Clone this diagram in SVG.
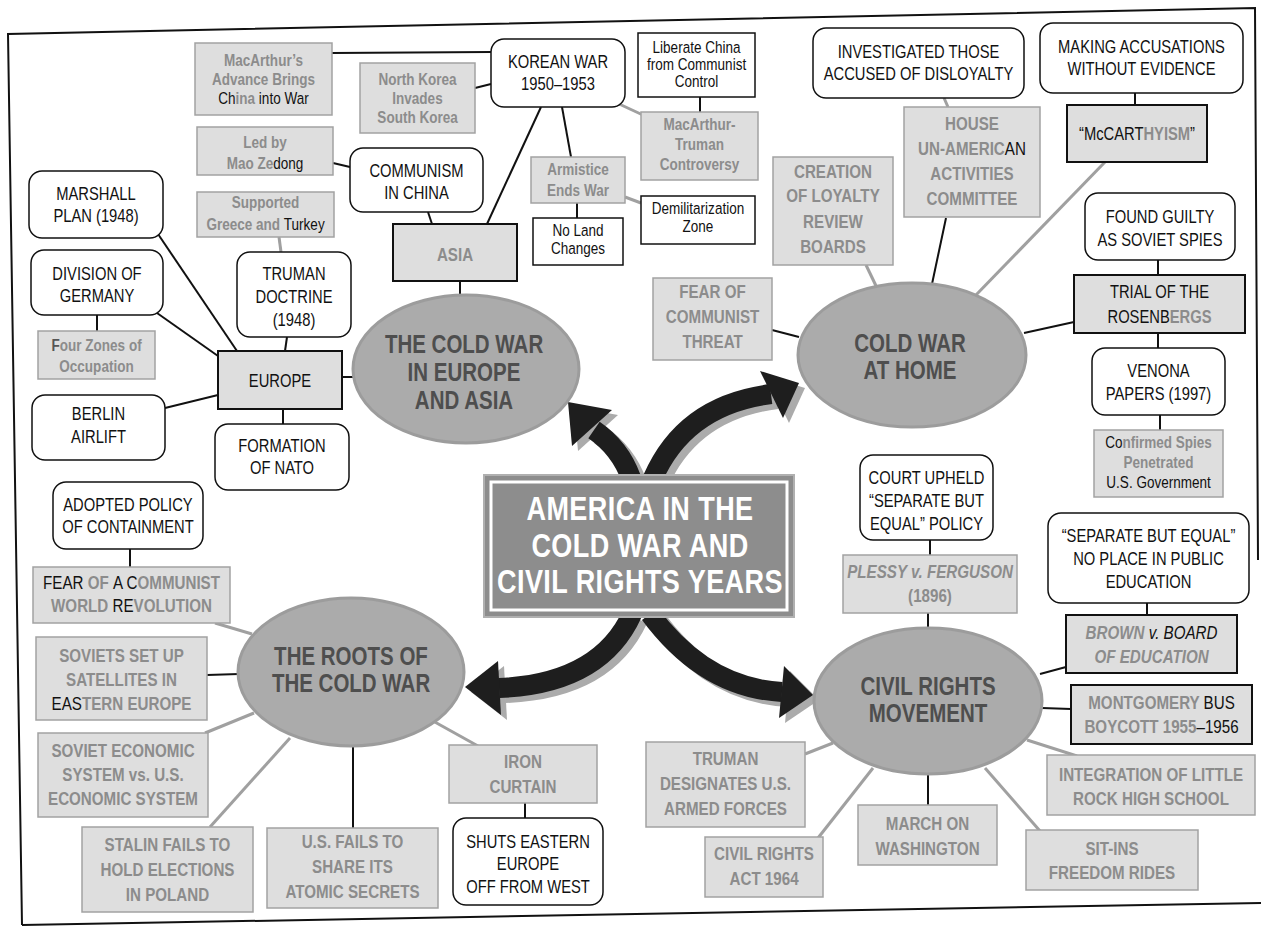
<svg xmlns="http://www.w3.org/2000/svg" width="1261" height="929" viewBox="0 0 1261 929">
<style>
text{font-family:"Liberation Sans",Arial,sans-serif;text-anchor:middle;transform-box:fill-box;transform-origin:center;transform:scaleX(0.82)}
.wb{fill:#fff;stroke:#111;stroke-width:1.5}
.wr{fill:#fff;stroke:#111;stroke-width:1.5}
.gb{fill:#dedede;stroke:#a2a2a2;stroke-width:1.5}
.gd{fill:#dedede;stroke:#111;stroke-width:2}
.el{fill:#ababab;stroke:#9c9c9c;stroke-width:3}
.t{font-size:18px;fill:#111}
.ts{font-size:16.5px;fill:#111}
.g{font-size:18.5px;font-weight:bold;fill:#8c8c8c}
.gs{font-size:16.5px;font-weight:bold;fill:#8c8c8c}
.k{fill:#111;font-weight:normal}
.et{font-size:25px;font-weight:bold;fill:#4e4e4e}
.tt{font-size:33px;font-weight:bold;fill:#fff;letter-spacing:0.5px}
.cb{stroke:#111;stroke-width:2;fill:none}
.cg{stroke:#a0a0a0;stroke-width:3;fill:none}
.frame{stroke:#111;stroke-width:2;fill:none}
.ar{fill:#1e1e1e}
.arl{stroke:#1e1e1e;stroke-width:20;fill:none}
.sh{fill:#ababab}
.shl{stroke:#ababab;stroke-width:20;fill:none}
</style>
<rect x="0" y="0" width="1261" height="929" fill="#fff"/>
<g id="frame">
<path class="frame" d="M22,925 L8,34 L1255,8 L1258,560"/>
<path class="frame" d="M22,925 L1261,903"/>
</g>
<g id="connectors">
<path class="cb" d="M332,53 L491,52"/>
<path class="cb" d="M475,88 L491,84"/>
<path class="cb" d="M333,163 L350,167"/>
<path class="cg" d="M279,237 L281,252"/>
<path class="cg" d="M617,103 L645,116"/>
<path class="cb" d="M700,97 L700,112"/>
<path class="cb" d="M562,107 L571,157"/>
<path class="cb" d="M577,203 L577,218"/>
<path class="cg" d="M625,197 L641,203"/>
<path class="cb" d="M541,107 L487,224"/>
<path class="cb" d="M428,212 L432,224"/>
<path class="cb" d="M460,281 L460,296"/>
<path class="cb" d="M158,234 L237,351"/>
<path class="cb" d="M157,313 L218,356"/>
<path class="cb" d="M287,337 L285,351"/>
<path class="cb" d="M342,377 L354,377"/>
<path class="cb" d="M165,408 L218,395"/>
<path class="cb" d="M283,409 L283,424"/>
<path class="cb" d="M97,315 L97,331"/>
<path class="cb" d="M130,549 L130,567"/>
<path class="cg" d="M215,623 L252,634"/>
<path class="cb" d="M207,675 L239,674"/>
<path class="cg" d="M205,733 L254,713"/>
<path class="cg" d="M210,827 L290,738"/>
<path class="cb" d="M353,746 L353,828"/>
<path class="cg" d="M433,721 L478,746"/>
<path class="cb" d="M525,803 L525,818"/>
<path class="cg" d="M944,98 L948,107"/>
<path class="cb" d="M1135,93 L1135,105"/>
<path class="cb" d="M946,218 L932,284"/>
<path class="cg" d="M1105,162 L975,296"/>
<path class="cg" d="M866,265 L878,290"/>
<path class="cb" d="M772,330 L799,337"/>
<path class="cb" d="M1024,333 L1074,322"/>
<path class="cb" d="M1158,260 L1158,275"/>
<path class="cb" d="M1158,333 L1158,348"/>
<path class="cb" d="M1160,415 L1160,430"/>
<path class="cb" d="M930,540 L930,555"/>
<path class="cb" d="M928,613 L928,628"/>
<path class="cb" d="M1147,603 L1147,615"/>
<path class="cb" d="M1040,674 L1066,667"/>
<path class="cb" d="M1042,708 L1071,709"/>
<path class="cg" d="M1027,740 L1077,756"/>
<path class="cb" d="M928,774 L928,805"/>
<path class="cg" d="M985,768 L1040,831"/>
<path class="cg" d="M873,768 L818,838"/>
<path class="cg" d="M805,754 L833,743"/>
</g>
<g id="arrows">
<g transform="translate(6,5)">
<path class="shl" d="M631,478 Q620,448 594,430"/>
<polygon class="sh" points="568,402 572,446 612,410"/>
<path class="shl" d="M653,478 Q685,405 771,394"/>
<polygon class="sh" points="799,383 760,371 783,418"/>
<path class="shl" d="M632,614 Q600,684 499,688"/>
<polygon class="sh" points="465,687 498,661 501,715"/>
<path class="shl" d="M650,614 Q705,688 782,692"/>
<polygon class="sh" points="813,695 784,666 779,718"/>
</g>
<path class="arl" d="M631,478 Q620,448 594,430"/>
<polygon class="ar" points="568,402 572,446 612,410"/>
<path class="arl" d="M653,478 Q685,405 771,394"/>
<polygon class="ar" points="799,383 760,371 783,418"/>
<path class="arl" d="M632,614 Q600,684 499,688"/>
<polygon class="ar" points="465,687 498,661 501,715"/>
<path class="arl" d="M650,614 Q705,688 782,692"/>
<polygon class="ar" points="813,695 784,666 779,718"/>
</g>
<g id="center">
<rect x="484" y="475" width="310" height="142" fill="#8d8d8d" stroke="#b0b0b0" stroke-width="2"/>
<rect x="491" y="482" width="296" height="128" fill="none" stroke="#fff" stroke-width="3"/>
<text class="tt" x="640" y="520">AMERICA IN THE</text>
<text class="tt" x="640" y="557">COLD WAR AND</text>
<text class="tt" x="640" y="593">CIVIL RIGHTS YEARS</text>
</g>
<g id="e_europe"><ellipse class="el" cx="466" cy="369" rx="113" ry="74"/>
<text class="et" x="464" y="353">THE COLD WAR</text><text class="et" x="464" y="381">IN EUROPE</text><text class="et" x="464" y="409">AND ASIA</text></g>
<g id="e_home"><ellipse class="el" cx="912" cy="355" rx="114" ry="72"/>
<text class="et" x="910" y="352">COLD WAR</text><text class="et" x="910" y="379">AT HOME</text></g>
<g id="e_roots"><ellipse class="el" cx="351" cy="672" rx="113" ry="74"/>
<text class="et" x="351" y="665">THE ROOTS OF</text><text class="et" x="351" y="692">THE COLD WAR</text></g>
<g id="e_civil"><ellipse class="el" cx="928" cy="701" rx="114" ry="73"/>
<text class="et" x="928" y="695">CIVIL RIGHTS</text><text class="et" x="928" y="722">MOVEMENT</text></g>

<g id="mac_adv"><rect class="gb" x="195" y="43" width="137" height="72"/>
<text class="gs" x="263.5" y="66">MacArthur’s</text><text class="gs" x="263.5" y="85">Advance Brings</text><text class="gs" x="263.5" y="104"><tspan class="k">Ch</tspan>ina <tspan class="k">into War</tspan></text></g>
<g id="north_korea"><rect class="gb" x="360" y="63" width="115" height="70"/>
<text class="gs" x="417.5" y="85">North Korea</text><text class="gs" x="417.5" y="104">Invades</text><text class="gs" x="417.5" y="123">South Korea</text></g>
<g id="korean"><rect class="wr" x="491" y="39" width="134" height="68" rx="13"/>
<text class="t" x="558" y="68">KOREAN WAR</text><text class="t" x="558" y="90">1950–1953</text></g>
<g id="liberate"><rect class="wb" x="638" y="33" width="117" height="64"/>
<text class="ts" x="696.5" y="53">Liberate China</text><text class="ts" x="696.5" y="70">from Communist</text><text class="ts" x="696.5" y="87">Control</text></g>
<g id="mao"><rect class="gb" x="197" y="127" width="136" height="48"/>
<text class="gs" x="265" y="148">Led by</text><text class="gs" x="265" y="169">Mao Ze<tspan class="k">dong</tspan></text></g>
<g id="communism"><rect class="wr" x="350" y="148" width="133" height="64" rx="13"/>
<text class="t" x="416.5" y="177">COMMUNISM</text><text class="t" x="416.5" y="199">IN CHINA</text></g>
<g id="mac_truman"><rect class="gb" x="641" y="112" width="117" height="68"/>
<text class="gs" x="699.5" y="130">MacArthur-</text><text class="gs" x="699.5" y="150">Truman</text><text class="gs" x="699.5" y="170">Controversy</text></g>
<g id="marshall"><rect class="wr" x="29" y="171" width="134" height="67" rx="13"/>
<text class="t" x="96" y="200">MARSHALL</text><text class="t" x="96" y="222">PLAN (1948)</text></g>
<g id="supported"><rect class="gb" x="197" y="192" width="137" height="45"/>
<text class="gs" x="265.5" y="208">Supported</text><text class="gs" x="265.5" y="230">Greece and <tspan class="k">Turkey</tspan></text></g>
<g id="armistice"><rect class="gb" x="531" y="157" width="94" height="46"/>
<text class="gs" x="578" y="175">Armistice</text><text class="gs" x="578" y="196">Ends War</text></g>
<g id="nolands"><rect class="wb" x="533" y="218" width="90" height="47"/>
<text class="ts" x="578" y="236">No Land</text><text class="ts" x="578" y="254">Changes</text></g>
<g id="demil"><rect class="wb" x="641" y="196" width="114" height="48"/>
<text class="ts" x="698" y="214">Demilitarization</text><text class="ts" x="698" y="232">Zone</text></g>
<g id="asia"><rect class="gd" x="393" y="224" width="124" height="57"/>
<text class="g" x="455" y="261">ASIA</text></g>
<g id="division"><rect class="wr" x="31" y="250" width="132" height="65" rx="13"/>
<text class="t" x="97" y="280">DIVISION OF</text><text class="t" x="97" y="302">GERMANY</text></g>
<g id="truman_doc"><rect class="wr" x="237" y="252" width="114" height="85" rx="13"/>
<text class="t" x="294" y="280">TRUMAN</text><text class="t" x="294" y="303">DOCTRINE</text><text class="t" x="294" y="326">(1948)</text></g>
<g id="four_zones"><rect class="gb" x="38" y="331" width="117" height="48"/>
<text class="gs" x="96.5" y="351"><tspan fill="#555">F</tspan>our Zones of</text><text class="gs" x="96.5" y="372">Occupation</text></g>
<g id="europe"><rect class="gd" x="218" y="351" width="124" height="58"/>
<text class="t" x="280" y="387" font-size="19">EUROPE</text></g>
<g id="berlin"><rect class="wr" x="32" y="395" width="133" height="65" rx="13"/>
<text class="t" x="98.5" y="420">BERLIN</text><text class="t" x="98.5" y="443">AIRLIFT</text></g>
<g id="nato"><rect class="wr" x="215" y="424" width="134" height="66" rx="13"/>
<text class="t" x="282" y="452">FORMATION</text><text class="t" x="282" y="474">OF NATO</text></g>
<g id="adopted"><rect class="wr" x="53" y="482" width="150" height="67" rx="13"/>
<text class="t" x="128" y="511">ADOPTED POLICY</text><text class="t" x="128" y="533">OF CONTAINMENT</text></g>
<g id="fear_comm"><rect class="gb" x="33" y="567" width="197" height="56"/>
<text class="g" x="131.5" y="589"><tspan class="k">FEAR </tspan>OF <tspan class="k">A C</tspan>OMMUNIST</text><text class="g" x="131.5" y="612">WORLD <tspan class="k">RE</tspan>VOLUTION</text></g>
<g id="soviets"><rect class="gb" x="36" y="637" width="171" height="83"/>
<text class="g" x="121.5" y="662">SOVIETS SET UP</text><text class="g" x="121.5" y="686">SATELLITES IN</text><text class="g" x="121.5" y="710"><tspan class="k">EAS</tspan>TERN  EUROPE</text></g>
<g id="soviet_econ"><rect class="gb" x="38" y="733" width="170" height="84"/>
<text class="g" x="123" y="757">SOVIET ECONOMIC</text><text class="g" x="123" y="781">SYSTEM vs. U.S.</text><text class="g" x="123" y="805">ECONOMIC SYSTEM</text></g>
<g id="stalin"><rect class="gb" x="82" y="827" width="171" height="85"/>
<text class="g" x="167.5" y="851">STALIN FAILS TO</text><text class="g" x="167.5" y="876">HOLD ELECTIONS</text><text class="g" x="167.5" y="901">IN POLAND</text></g>
<g id="usfails"><rect class="gb" x="267" y="828" width="171" height="80"/>
<text class="g" x="352.5" y="848">U.S. FAILS TO</text><text class="g" x="352.5" y="873">SHARE ITS</text><text class="g" x="352.5" y="898">ATOMIC SECRETS</text></g>
<g id="iron"><rect class="gb" x="449" y="745" width="148" height="58"/>
<text class="g" x="523" y="768">IRON</text><text class="g" x="523" y="793">CURTAIN</text></g>
<g id="shuts"><rect class="wr" x="453" y="818" width="150" height="87" rx="13"/>
<text class="t" x="528" y="848">SHUTS EASTERN</text><text class="t" x="528" y="870">EUROPE</text><text class="t" x="528" y="893">OFF FROM WEST</text></g>
<g id="truman_des"><rect class="gb" x="646" y="742" width="159" height="85"/>
<text class="g" x="725.5" y="765">TRUMAN</text><text class="g" x="725.5" y="790">DESIGNATES U.S.</text><text class="g" x="725.5" y="815">ARMED FORCES</text></g>
<g id="cra"><rect class="gb" x="705" y="837" width="118" height="60"/>
<text class="g" x="764" y="860">CIVIL RIGHTS</text><text class="g" x="764" y="885">ACT 1964</text></g>
<g id="march"><rect class="gb" x="858" y="805" width="139" height="60"/>
<text class="g" x="927.5" y="830">MARCH ON</text><text class="g" x="927.5" y="855">WASHINGTON</text></g>
<g id="sitins"><rect class="gb" x="1026" y="830" width="172" height="60"/>
<text class="g" x="1112" y="855">SIT-INS</text><text class="g" x="1112" y="879">FREEDOM RIDES</text></g>
<g id="integration"><rect class="gb" x="1047" y="755" width="208" height="60"/>
<text class="g" x="1151" y="781">INTEGRATION OF LITTLE</text><text class="g" x="1151" y="805">ROCK HIGH SCHOOL</text></g>
<g id="montgomery"><rect class="gd" x="1071" y="685" width="181" height="59"/>
<text class="g" x="1161.5" y="709">MONTGOMERY <tspan class="k">BUS</tspan></text><text class="g" x="1161.5" y="733">BOYCOTT 1955<tspan class="k">–1956</tspan></text></g>
<g id="brown"><rect class="gd" x="1066" y="615" width="171" height="58"/>
<text class="g" x="1151.5" y="639" font-style="italic">BROWN <tspan class="k">v. BOARD</tspan></text><text class="g" x="1151.5" y="663" font-style="italic">OF EDUCATION</text></g>
<g id="sep_equal"><rect class="wr" x="1048" y="513" width="201" height="90" rx="13"/>
<text class="t" x="1148.5" y="542">“SEPARATE BUT EQUAL”</text><text class="t" x="1148.5" y="565">NO PLACE IN PUBLIC</text><text class="t" x="1148.5" y="588">EDUCATION</text></g>
<g id="plessy"><rect class="gb" x="843" y="555" width="174" height="58"/>
<text class="g" x="930" y="578" font-style="italic">PLESSY v. FERGUSON</text><text class="g" x="930" y="602">(1896)</text></g>
<g id="court"><rect class="wr" x="860" y="455" width="133" height="85" rx="13"/>
<text class="t" x="926.5" y="484">COURT UPHELD</text><text class="t" x="926.5" y="507">“SEPARATE BUT</text><text class="t" x="926.5" y="530">EQUAL” POLICY</text></g>
<g id="confirmed"><rect class="gb" x="1094" y="430" width="129" height="67"/>
<text class="gs" x="1158.5" y="448"><tspan class="k">Co</tspan>nfirmed Spies</text><text class="gs" x="1158.5" y="468">Penetrated</text><text class="gs" x="1158.5" y="488"><tspan class="k">U.S. Government</tspan></text></g>
<g id="venona"><rect class="wr" x="1092" y="348" width="133" height="67" rx="13"/>
<text class="t" x="1158.5" y="377">VENONA</text><text class="t" x="1158.5" y="400">PAPERS (1997)</text></g>
<g id="trial"><rect class="gd" x="1074" y="275" width="171" height="58"/>
<text class="t" x="1159.5" y="298" font-size="19">TRIAL OF THE</text><text class="t" x="1159.5" y="323" font-size="19">ROSENB<tspan fill="#8c8c8c" font-weight="bold">ERGS</tspan></text></g>
<g id="found"><rect class="wr" x="1085" y="193" width="150" height="67" rx="13"/>
<text class="t" x="1160" y="223">FOUND GUILTY</text><text class="t" x="1160" y="246">AS SOVIET SPIES</text></g>
<g id="mccarthy"><rect class="gd" x="1067" y="105" width="140" height="57"/>
<text class="t" x="1137" y="140" font-size="19">“McCART<tspan fill="#8c8c8c" font-weight="bold">HYISM</tspan>”</text></g>
<g id="making"><rect class="wr" x="1040" y="23" width="203" height="70" rx="13"/>
<text class="t" x="1141.5" y="53">MAKING ACCUSATIONS</text><text class="t" x="1141.5" y="75">WITHOUT EVIDENCE</text></g>
<g id="investigated"><rect class="wr" x="813" y="28" width="211" height="70" rx="13"/>
<text class="t" x="918.5" y="58">INVESTIGATED THOSE</text><text class="t" x="918.5" y="80">ACCUSED OF DISLOYALTY</text></g>
<g id="house"><rect class="gb" x="904" y="107" width="136" height="110"/>
<text class="g" x="972" y="130">HOUSE</text><text class="g" x="972" y="155">UN-AMERIC<tspan class="k">AN</tspan></text><text class="g" x="972" y="180">ACTIVITIES</text><text class="g" x="972" y="205">COMMITTEE</text></g>
<g id="creation"><rect class="gb" x="773" y="157" width="120" height="108"/>
<text class="g" x="833" y="178">CREATION</text><text class="g" x="833" y="202">OF LOYALTY</text><text class="g" x="833" y="228">REVIEW</text><text class="g" x="833" y="253">BOARDS</text></g>
<g id="fear_threat"><rect class="gb" x="653" y="278" width="119" height="82"/>
<text class="g" x="712.5" y="298">FEAR OF</text><text class="g" x="712.5" y="323">COMMUNIST</text><text class="g" x="712.5" y="348">THREAT</text></g>
</svg>
